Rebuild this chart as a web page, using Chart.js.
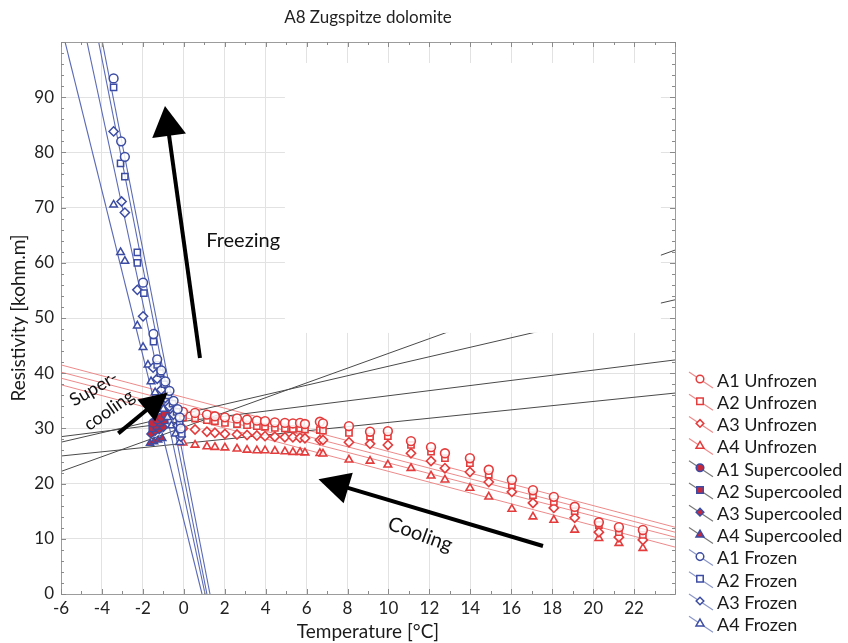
<!DOCTYPE html>
<html>
<head>
<meta charset="utf-8">
<script src="https://cdn.jsdelivr.net/npm/chart.js@4/dist/chart.umd.min.js"></script>
<style>
  html, body { margin: 0; padding: 0; background: #fff; }
  #wrap { width: 848px; height: 643px; position: relative; }
</style>
</head>
<body>
<div id="wrap"><canvas id="c" width="848" height="643"></canvas></div>
<script>
// ---- Sample series -------------------------------------------------------
const seriesNames = ['A1', 'A2', 'A3', 'A4'];
const markerStyles = ['circle', 'rect', 'rectRot', 'triangle'];

// Unfrozen state (cooling run), temperature in °C, resistivity in kohm.m
const unfrozenTemp = [-0.04, 0.55, 1.13, 1.52, 2.01, 2.6, 3.09, 3.57, 3.97, 4.45, 4.94, 5.33, 5.68, 5.92, 6.65, 6.8, 8.07, 9.1, 9.97, 11.1, 12.08, 12.76, 13.98, 14.9, 16.03, 17.06, 18.08, 19.1, 20.28, 21.26, 22.43];
const unfrozenA1 = [33.0, 32.8, 32.5, 32.2, 32.0, 31.8, 31.6, 31.4, 31.3, 31.1, 31.0, 30.9, 31.0, 30.8, 31.2, 30.9, 30.4, 29.4, 29.5, 27.7, 26.6, 25.5, 24.6, 22.5, 20.7, 18.8, 17.6, 15.8, 13.0, 12.1, 11.6];
const unfrozenA2 = [32.0, 31.8, 31.5, 31.3, 31.0, 30.8, 30.6, 30.4, 30.3, 30.1, 30.0, 29.9, 30.0, 29.8, 29.7, 29.6, 29.2, 28.5, 28.6, 27.0, 25.8, 24.6, 23.7, 21.6, 19.7, 17.9, 16.7, 15.0, 12.5, 11.2, 10.7];
const unfrozenA3 = [30.0, 29.8, 29.4, 29.2, 29.0, 28.9, 28.8, 28.7, 28.6, 28.5, 28.4, 28.4, 28.3, 28.2, 27.9, 27.9, 27.5, 27.2, 27.0, 25.5, 24.1, 22.8, 22.1, 20.3, 18.5, 16.5, 15.6, 13.8, 11.2, 10.3, 9.8];
const unfrozenA4 = [27.4, 27.0, 26.7, 26.6, 26.5, 26.3, 26.1, 26.0, 26.0, 25.9, 25.8, 25.7, 25.7, 25.6, 25.5, 25.4, 24.3, 24.1, 23.4, 22.8, 21.4, 20.7, 19.2, 17.6, 15.4, 14.0, 13.4, 11.6, 10.1, 9.2, 8.3];

// Supercooled state
const supercooledTempA1 = [-1.5, -1.3, -1.1, -0.9];
const supercooledA1 = [31.0, 31.6, 32.0, 32.6];
const supercooledTempA2 = [-1.55, -1.35, -1.15, -0.95];
const supercooledA2 = [30.0, 30.4, 31.0, 31.4];
const supercooledTempA3 = [-1.6, -1.4, -1.2, -1.0];
const supercooledA3 = [29.0, 29.5, 29.8, 30.2];
const supercooledTempA4 = [-1.65, -1.45, -1.25, -1.05];
const supercooledA4 = [27.3, 27.6, 27.9, 28.2];

// Frozen state
const frozenTempA1 = [-0.15, -0.2, -0.3, -0.5, -0.7, -0.9, -1.1, -1.3, -1.48, -1.99, -2.88, -3.06, -3.43];
const frozenA1 = [30.0, 32.0, 33.5, 35.0, 36.8, 38.5, 40.5, 42.5, 47.1, 56.4, 79.2, 82.0, 93.4];
const frozenTempA2 = [-0.1, -0.2, -0.35, -0.55, -0.75, -0.95, -1.15, -1.3, -1.48, -1.95, -2.27, -2.27, -2.88, -3.09, -3.43];
const frozenA2 = [29.0, 31.0, 33.0, 34.5, 36.0, 38.0, 40.0, 41.5, 45.7, 54.5, 60.0, 61.9, 75.6, 78.0, 91.8];
const frozenTempA3 = [-0.15, -0.3, -0.5, -0.7, -0.9, -1.1, -1.3, -1.5, -1.99, -2.27, -2.88, -3.04, -3.43];
const frozenA3 = [28.5, 30.5, 32.5, 34.0, 35.5, 37.0, 39.0, 41.0, 50.3, 55.1, 69.1, 71.1, 83.8];
const frozenTempA4 = [-0.2, -0.4, -0.6, -0.8, -1.0, -1.2, -1.4, -1.6, -1.75, -1.99, -2.27, -2.88, -3.09, -3.43];
const frozenA4 = [27.5, 29.0, 30.5, 32.0, 33.5, 35.0, 36.5, 38.5, 41.5, 44.7, 48.6, 60.3, 61.9, 70.5];

// Linear fits: resistivity at the two ends of the temperature axis
const fitTempEnds = [-6, 24];
const unfrozenFitA1 = [41.5, 12.1];
const unfrozenFitA2 = [40.2, 11.2];
const unfrozenFitA3 = [39.1, 10.3];
const unfrozenFitA4 = [37.9, 8.5];
const supercooledFitA1 = [27.5, 53.3];
const supercooledFitA2 = [22.2, 62.3];
const supercooledFitA3 = [28.5, 42.4];
const supercooledFitA4 = [25.0, 36.4];
// Frozen fits: temperature where each fit reaches 100 and 0 kohm.m
const frozenFitRes = [100, 0];
const frozenFitA1 = [-3.98, 1.28];
const frozenFitA2 = [-4.16, 1.13];
const frozenFitA3 = [-4.73, 1.04];
const frozenFitA4 = [-5.8, 0.89];

// Axis ticks
const xTickLabels = [-6, -4, -2, 0, 2, 4, 6, 8, 10, 12, 14, 16, 18, 20, 22];
const yTickLabels = [0, 10, 20, 30, 40, 50, 60, 70, 80, 90];

// ---- Styling ---------------------------------------------------------------
const RED = '#e43c3c';
const RED_LINE = '#ec8a8a';
const BLUE = '#3c4ca2';
const BLUE_LINE = '#5a69b6';
const GREY_LINE = '#4a4a4a';
const SC_FILL = '#c8283c';
const FONT = 'Lato, "Open Sans", sans-serif';

const zip = (xs, ys) => xs.map((v, i) => ({ x: v, y: ys[i] }));

const unfrozenVals = [unfrozenA1, unfrozenA2, unfrozenA3, unfrozenA4];
const scTemps = [supercooledTempA1, supercooledTempA2, supercooledTempA3, supercooledTempA4];
const scVals = [supercooledA1, supercooledA2, supercooledA3, supercooledA4];
const frTemps = [frozenTempA1, frozenTempA2, frozenTempA3, frozenTempA4];
const frVals = [frozenA1, frozenA2, frozenA3, frozenA4];
const unfrozenFits = [unfrozenFitA1, unfrozenFitA2, unfrozenFitA3, unfrozenFitA4];
const scFits = [supercooledFitA1, supercooledFitA2, supercooledFitA3, supercooledFitA4];
const frFits = [frozenFitA1, frozenFitA2, frozenFitA3, frozenFitA4];

const datasets = [];
seriesNames.forEach((s, i) => {
  datasets.push({
    label: s + ' Frozen', data: zip(frTemps[i], frVals[i]), order: 0,
    pointStyle: markerStyles[i], pointRadius: i === 2 ? 4.6 : 4.4, borderWidth: 1.5,
    borderColor: BLUE, backgroundColor: 'rgba(255,255,255,0.85)', showLine: false
  });
  datasets.push({
    label: s + ' Supercooled', data: zip(scTemps[i], scVals[i]), order: 1,
    pointStyle: markerStyles[i], pointRadius: 4.2, borderWidth: 1.4,
    borderColor: BLUE, backgroundColor: SC_FILL, showLine: false
  });
  datasets.push({
    label: s + ' Unfrozen', data: zip(unfrozenTemp, unfrozenVals[i]), order: 2,
    pointStyle: markerStyles[i], pointRadius: i === 2 ? 4.6 : 4.4, borderWidth: 1.6,
    borderColor: RED, backgroundColor: 'rgba(255,255,255,0.85)', showLine: false
  });
});
seriesNames.forEach((s, i) => {
  datasets.push({
    label: s + ' Unfrozen fit', data: zip(fitTempEnds, unfrozenFits[i]), order: 5,
    type: 'line', showLine: true, pointRadius: 0, borderWidth: 1, borderColor: RED_LINE, fill: false
  });
  datasets.push({
    label: s + ' Supercooled fit', data: zip(fitTempEnds, scFits[i]), order: 4,
    type: 'line', showLine: true, pointRadius: 0, borderWidth: 1, borderColor: GREY_LINE, fill: false
  });
  datasets.push({
    label: s + ' Frozen fit', data: zip(frFits[i], frozenFitRes), order: 3,
    type: 'line', showLine: true, pointRadius: 0, borderWidth: 1.1, borderColor: BLUE_LINE, fill: false
  });
});

// Legend entries: state, icon line colour, marker stroke/fill
const legendStates = [
  { state: 'Unfrozen', line: RED_LINE, stroke: RED, fill: '#fff' },
  { state: 'Supercooled', line: '#777', stroke: BLUE, fill: SC_FILL },
  { state: 'Frozen', line: '#8a96c8', stroke: BLUE, fill: '#fff' }
];

function marker(ctx, style, x, y, r) {
  ctx.beginPath();
  if (style === 'circle') {
    ctx.arc(x, y, r, 0, Math.PI * 2);
  } else if (style === 'rect') {
    const h = r * 0.85;
    ctx.rect(x - h, y - h, 2 * h, 2 * h);
  } else if (style === 'rectRot') {
    ctx.moveTo(x, y - r); ctx.lineTo(x + r, y); ctx.lineTo(x, y + r); ctx.lineTo(x - r, y); ctx.closePath();
  } else {
    const h = r * 1.1;
    ctx.moveTo(x, y - h); ctx.lineTo(x + h * 0.95, y + h * 0.65); ctx.lineTo(x - h * 0.95, y + h * 0.65); ctx.closePath();
  }
  ctx.fill();
  ctx.stroke();
}

function arrow(ctx, x1, y1, x2, y2, len, half, w) {
  const a = Math.atan2(y2 - y1, x2 - x1);
  const bx = x2 - len * Math.cos(a), by = y2 - len * Math.sin(a);
  ctx.save();
  ctx.strokeStyle = '#000';
  ctx.fillStyle = '#000';
  ctx.lineWidth = w;
  ctx.beginPath(); ctx.moveTo(x1, y1); ctx.lineTo(bx + 2 * Math.cos(a), by + 2 * Math.sin(a)); ctx.stroke();
  ctx.beginPath();
  ctx.moveTo(x2, y2);
  ctx.lineTo(bx + half * Math.sin(a), by - half * Math.cos(a));
  ctx.lineTo(bx - half * Math.sin(a), by + half * Math.cos(a));
  ctx.closePath(); ctx.fill();
  ctx.restore();
}

function rotatedText(ctx, text, x, y, deg, size) {
  ctx.save();
  ctx.translate(x, y);
  ctx.rotate(deg * Math.PI / 180);
  ctx.font = size + 'px ' + FONT;
  ctx.fillStyle = '#111';
  ctx.textAlign = 'center';
  ctx.textBaseline = 'middle';
  ctx.fillText(text, 0, 0);
  ctx.restore();
}

const decorations = {
  id: 'decorations',
  afterDatasetsDraw(chart) {
    const { ctx, scales: { x, y } } = chart;
    // blank panel in the upper right part of the plot
    ctx.save();
    ctx.fillStyle = '#fff';
    const px0 = x.getPixelForValue(4.94), px1 = x.getPixelForValue(23.31);
    const py0 = y.getPixelForValue(96.2), py1 = y.getPixelForValue(47.3);
    ctx.fillRect(px0, py0, px1 - px0, py1 - py0);
    ctx.restore();
  },
  afterDraw(chart) {
    const { ctx, chartArea: a, scales: { x, y } } = chart;
    ctx.save();
    // frame
    ctx.strokeStyle = '#9c9c9c';
    ctx.lineWidth = 1;
    ctx.strokeRect(Math.round(a.left) + 0.5, Math.round(a.top) + 0.5, Math.round(a.right - a.left), Math.round(a.bottom - a.top));
    // inward tick marks on all four sides
    ctx.strokeStyle = '#8a8a8a';
    ctx.beginPath();
    for (let v = -6; v <= 24; v += 1) {
      const px = Math.round(x.getPixelForValue(v)) + 0.5;
      const len = v % 2 === 0 ? 5 : 3;
      ctx.moveTo(px, a.bottom); ctx.lineTo(px, a.bottom - len);
      ctx.moveTo(px, a.top); ctx.lineTo(px, a.top + len);
    }
    for (let v = 0; v <= 100; v += 2) {
      const py = Math.round(y.getPixelForValue(v)) + 0.5;
      const len = v % 10 === 0 ? 5 : 3;
      ctx.moveTo(a.left, py); ctx.lineTo(a.left + len, py);
      ctx.moveTo(a.right, py); ctx.lineTo(a.right - len, py);
    }
    ctx.stroke();

    // title
    ctx.font = '17px ' + FONT;
    ctx.fillStyle = '#222';
    ctx.textAlign = 'center';
    ctx.textBaseline = 'middle';
    ctx.fillText('A8 Zugspitze dolomite', (a.left + a.right) / 2, 18);

    // arrows and labels
    const X = v => x.getPixelForValue(v), Y = v => y.getPixelForValue(v);
    arrow(ctx, X(0.79), Y(42.75), X(-0.92), Y(88.4), 30, 17, 4);
    arrow(ctx, X(17.55), Y(8.7), X(6.58), Y(20.8), 31, 16, 4);
    arrow(ctx, X(-3.2), Y(29.1), X(-0.78), Y(36.5), 28, 14, 4);
    rotatedText(ctx, 'Freezing', X(2.9), Y(64.0), 0, 20);
    rotatedText(ctx, 'Cooling', X(11.55), Y(10.8), 20, 20);
    rotatedText(ctx, 'Super-', X(-4.4), Y(37.2), -30, 18);
    rotatedText(ctx, 'cooling', X(-3.65), Y(33.3), -35, 18);

    // legend
    ctx.textAlign = 'left';
    ctx.font = '18px ' + FONT;
    let k = 0;
    legendStates.forEach(st => {
      seriesNames.forEach((s, i) => {
        const cy = 380 + k * 22.2;
        ctx.strokeStyle = st.line;
        ctx.lineWidth = 1.2;
        ctx.beginPath(); ctx.moveTo(689, cy - 8); ctx.lineTo(713, cy + 8); ctx.stroke();
        ctx.strokeStyle = st.stroke;
        ctx.fillStyle = st.fill;
        ctx.lineWidth = 1.5;
        marker(ctx, markerStyles[i], 700, cy - 1, 3.8);
        ctx.fillStyle = '#1a1a1a';
        ctx.fillText(s + ' ' + st.state, 717, cy + 1);
        k++;
      });
    });
    ctx.restore();
  }
};

new Chart(document.getElementById('c'), {
  type: 'scatter',
  data: { datasets },
  options: {
    responsive: false,
    animation: false,
    events: [],
    layout: { padding: { top: 42, right: 173, left: 0, bottom: 0 } },
    plugins: { legend: { display: false }, title: { display: false }, tooltip: { enabled: false } },
    scales: {
      x: {
        type: 'linear', min: -6, max: 24,
        afterFit: s => { s.height = 49; },
        afterBuildTicks: s => { s.ticks = []; for (let v = -6; v <= 24; v += 2) s.ticks.push({ value: v }); },
        ticks: {
          autoSkip: false, maxRotation: 0, padding: 4, color: '#222',
          font: { family: FONT, size: 17 },
          callback: v => xTickLabels.includes(v) ? String(v) : ''
        },
        grid: { color: '#e2e2e2', lineWidth: 1, drawTicks: false },
        border: { display: false },
        title: { display: true, text: 'Temperature [°C]', color: '#1a1a1a', font: { family: FONT, size: 19 }, padding: { top: 0, bottom: 0 } }
      },
      y: {
        type: 'linear', min: 0, max: 100,
        afterFit: s => { s.width = 61; },
        afterBuildTicks: s => { s.ticks = []; for (let v = 0; v <= 100; v += 10) s.ticks.push({ value: v }); },
        ticks: {
          autoSkip: false, padding: 7, color: '#222',
          font: { family: FONT, size: 17 },
          callback: v => yTickLabels.includes(v) ? String(v) : ''
        },
        grid: { color: '#e2e2e2', lineWidth: 1, drawTicks: false },
        border: { display: false },
        title: { display: true, text: 'Resistivity [kohm.m]', color: '#1a1a1a', font: { family: FONT, size: 19 }, padding: { top: 7, bottom: 0 } }
      }
    }
  },
  plugins: [decorations]
});
</script>
</body>
</html>
